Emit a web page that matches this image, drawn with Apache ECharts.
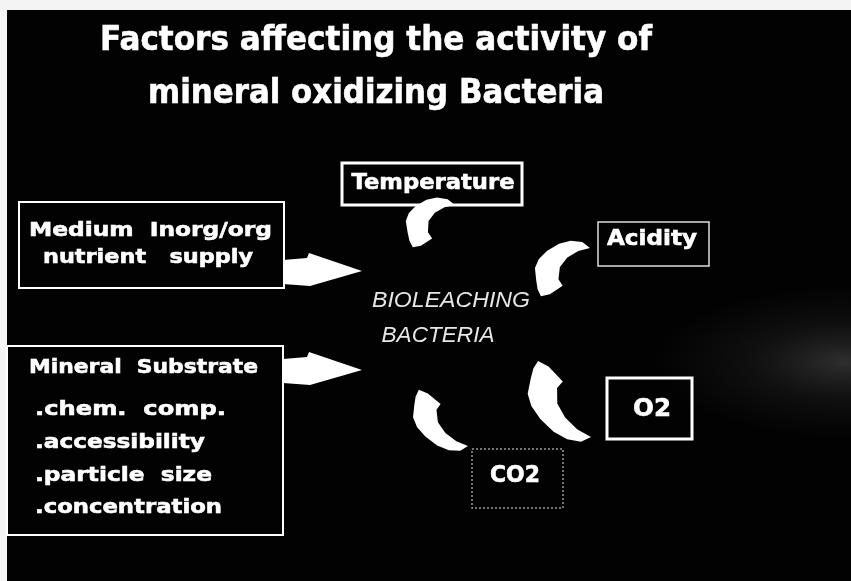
<!DOCTYPE html>
<html>
<head>
<meta charset="utf-8">
<script src="https://cdn.jsdelivr.net/npm/echarts@6/dist/echarts.min.js"></script>
<style>
html, body { margin: 0; padding: 0; background: #fff; }
#chart { width: 851px; height: 581px; }
</style>
</head>
<body>
<div id="chart"></div>
<script>
// texts of the slide
var titleLines = ['Factors affecting the activity of', 'mineral oxidizing Bacteria'];
var mediumLines = ['Medium  Inorg/org', 'nutrient   supply'];
var substrateLines = ['Mineral  Substrate', '.chem.  comp.', '.accessibility', '.particle  size', '.concentration'];
var factorLabels = ['Temperature', 'Acidity', 'O2', 'CO2'];
var centerLines = ['BIOLEACHING', 'BACTERIA'];

// layout (pixels)
var BOLD = '"DejaVu Sans", sans-serif';
var titleLayout = [
    {x: 376, y: 41, size: 33, w: 552},
    {x: 376, y: 94, size: 33, w: 456}
];
var mediumLayout = [
    {x: 29, y: 231, size: 20, w: 243},
    {x: 43, y: 258, size: 20, w: 210}
];
var substrateLayout = [
    {x: 29, y: 368, size: 20, w: 229},
    {x: 35, y: 410, size: 20, w: 191},
    {x: 35, y: 443, size: 20, w: 170},
    {x: 35, y: 476, size: 20, w: 177},
    {x: 35, y: 508, size: 20, w: 187}
];
var factorLayout = [
    {bx: 342, by: 163, bw: 180, bh: 42, lw: 3, stroke: '#fff', x: 433, y: 184, size: 21, w: 163},
    {bx: 598, by: 222, bw: 111, bh: 44, lw: 1.5, stroke: '#ddd', x: 652, y: 240, size: 21, w: 90},
    {bx: 607, by: 378, bw: 85, bh: 61, lw: 3, stroke: '#fff', x: 652, y: 409, size: 25, w: 38},
    {bx: 472, by: 449, bw: 91, bh: 59, lw: 1.5, stroke: '#9a9a9a', dash: [2, 2], x: 515, y: 476, size: 23, w: 50}
];
var centerLayout = [
    {x: 451, y: 301, size: 22, w: 158},
    {x: 438, y: 336, size: 22, w: 113}
];
// curved arrows: head end, tail end, body thickness factor
var curveLayout = [
    {head: [412, 247], tail: [455, 205], flip: true, bulge: 1.5},
    {head: [540, 296], tail: [590, 248], flip: true, bulge: 1.35},
    {head: [537, 361], tail: [591, 437], flip: false, bulge: 1.12},
    {head: [418, 390], tail: [468, 446], flip: false, bulge: 1.15}
];
var straightArrowY = [272, 371];

var curveShape = [[538, 361], [548, 367], [562, 382], [557, 388], [558, 403], [566, 417], [578, 429], [591, 437],
    [582, 441], [569, 438], [556, 430], [543, 417], [534, 404], [530, 392], [532, 378], [534, 368]];
var curveHead = [537, 361], curveTail = [591, 437];
var straightShape = [[0, -12], [24, -14], [26, -19], [79, -1], [27, 14], [0, 12]];

var ctx = document.createElement('canvas').getContext('2d');
function fitScale(text, font, w) {
    ctx.font = font;
    return w / ctx.measureText(text).width;
}

function textEl(text, l, align, opt) {
    opt = opt || {};
    var font = (opt.style || 'normal') + ' ' + (opt.weight || 'bold') + ' ' + l.size + 'px ' + (opt.family || BOLD);
    return {
        type: 'text',
        x: l.x,
        y: l.y,
        scaleX: fitScale(text, font, l.w),
        z: 10,
        style: {
            text: text,
            font: font,
            fill: opt.fill || '#fff',
            stroke: opt.stroke || null,
            lineWidth: opt.stroke ? 0.6 : 0,
            textAlign: align,
            textVerticalAlign: 'middle',
            align: align,
            verticalAlign: 'middle'
        }
    };
}

function placeShape(pts, h0, t0, c) {
    var ax = t0[0] - h0[0], ay = t0[1] - h0[1];
    var L = Math.sqrt(ax * ax + ay * ay), ux = ax / L, uy = ay / L;
    var bx = ax, by = c.flip ? -ay : ay;
    var tx = c.tail[0] - c.head[0], ty = c.tail[1] - c.head[1];
    var d = bx * bx + by * by;
    var kr = (tx * bx + ty * by) / d, ki = (ty * bx - tx * by) / d;
    return pts.map(function (p) {
        var dx = p[0] - h0[0], dy = p[1] - h0[1];
        var a = dx * ux + dy * uy, q = (-dx * uy + dy * ux) * c.bulge;
        dx = a * ux - q * uy;
        dy = a * uy + q * ux;
        if (c.flip) dy = -dy;
        return [c.head[0] + dx * kr - dy * ki, c.head[1] + dx * ki + dy * kr];
    });
}

var els = [];
// black slide on a pale scan border
els.push({type: 'rect', shape: {x: 7, y: 10, width: 844, height: 571}, style: {fill: '#020202'}, z: 0});
els.push({
    type: 'circle', x: 845, y: 362, scaleY: 0.4, z: 1,
    shape: {cx: 0, cy: 0, r: 190},
    style: {
        fill: new echarts.graphic.RadialGradient(0.5, 0.5, 0.5, [
            {offset: 0, color: 'rgba(140,140,140,0.32)'},
            {offset: 0.5, color: 'rgba(110,110,110,0.12)'},
            {offset: 1, color: 'rgba(100,100,100,0)'}
        ])
    }
});

titleLines.forEach(function (t, i) { els.push(textEl(t, titleLayout[i], 'center', {stroke: '#fff'})); });

els.push({type: 'rect', shape: {x: 19, y: 202, width: 265, height: 86}, style: {fill: null, stroke: '#fff', lineWidth: 2}, z: 5});
mediumLines.forEach(function (t, i) { els.push(textEl(t, mediumLayout[i], 'left', {stroke: '#fff'})); });

els.push({type: 'rect', shape: {x: 7, y: 346, width: 276, height: 189}, style: {fill: null, stroke: '#fff', lineWidth: 2}, z: 5});
substrateLines.forEach(function (t, i) { els.push(textEl(t, substrateLayout[i], 'left', {stroke: '#fff'})); });

factorLabels.forEach(function (t, i) {
    var l = factorLayout[i];
    els.push({
        type: 'rect', z: 5,
        shape: {x: l.bx, y: l.by, width: l.bw, height: l.bh},
        style: {fill: null, stroke: l.stroke, lineWidth: l.lw, lineDash: l.dash || null}
    });
    els.push(textEl(t, l, 'center', {stroke: '#fff'}));
});

centerLines.forEach(function (t, i) {
    els.push(textEl(t, centerLayout[i], 'center', {
        style: 'italic', weight: 'normal', family: '"Liberation Sans", sans-serif', fill: '#e6e6e6'
    }));
});

straightArrowY.forEach(function (y) {
    els.push({
        type: 'polygon', z: 6,
        shape: {points: straightShape.map(function (p) { return [283 + p[0], y + p[1]]; })},
        style: {fill: '#fff'}
    });
});

curveLayout.forEach(function (c) {
    els.push({
        type: 'polygon', z: 6,
        shape: {points: placeShape(curveShape, curveHead, curveTail, c)},
        style: {fill: '#fff'}
    });
});

var chart = echarts.init(document.getElementById('chart'));
chart.setOption({
    backgroundColor: '#f4f4f4',
    graphic: {elements: els}
});
</script>
</body>
</html>
